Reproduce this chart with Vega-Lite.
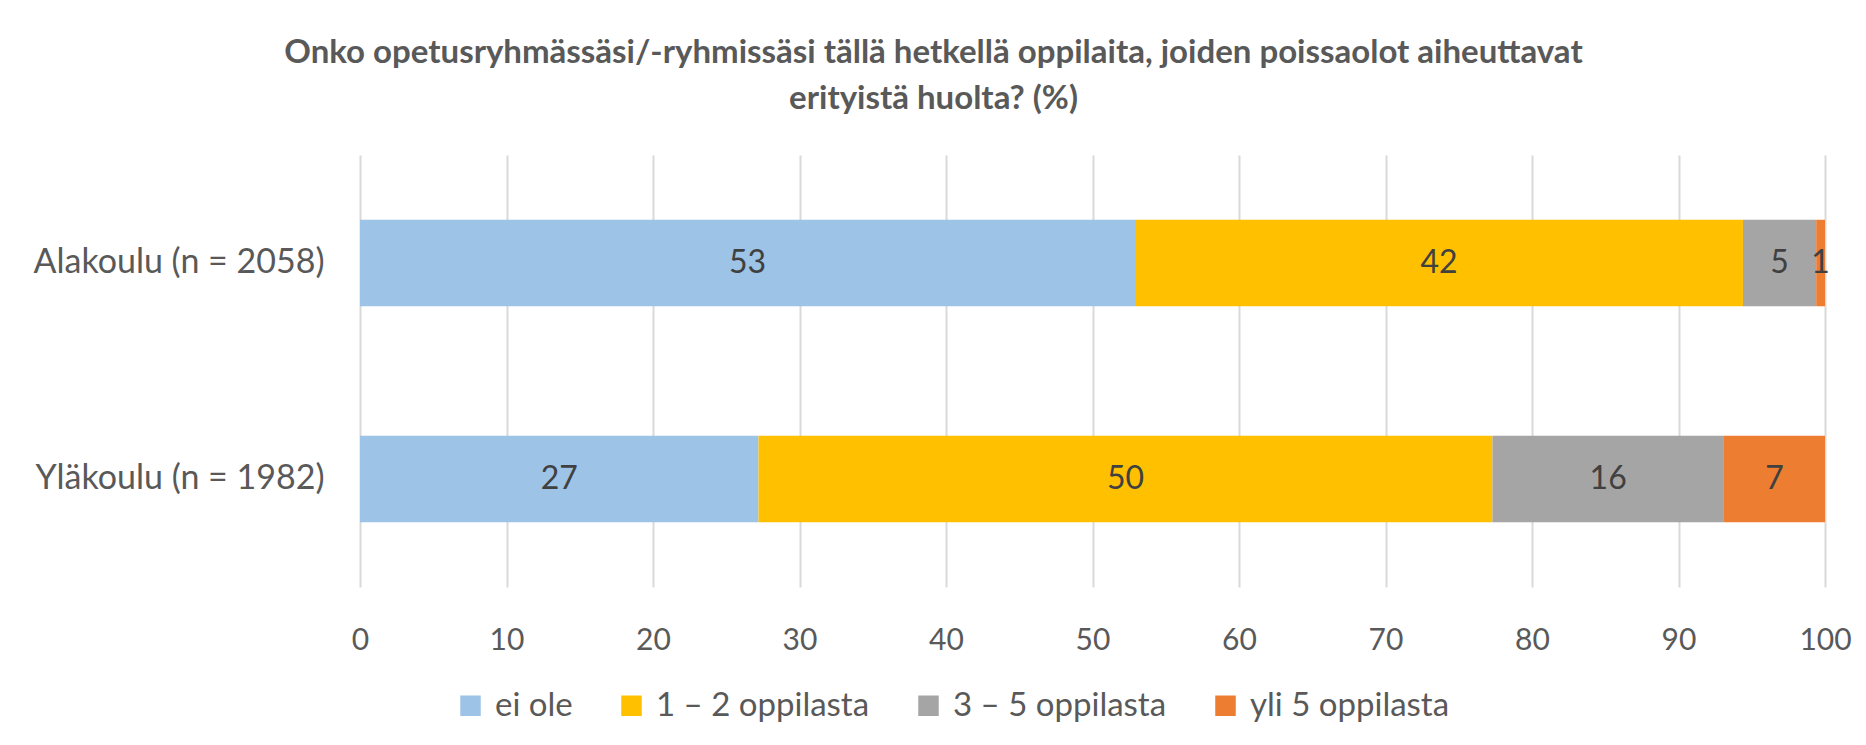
{
  "$schema": "https://vega.github.io/schema/vega-lite/v6.json",
  "autosize": {"type": "none"},
  "width": 1465,
  "height": 432,
  "padding": {"left": 360, "top": 155, "right": 41, "bottom": 158},
  "background": "white",
  "config": {
    "font": "Lato",
    "view": {"stroke": null}
  },
  "title": {
    "text": ["Onko opetusryhmässäsi/-ryhmissäsi tällä hetkellä oppilaita, joiden poissaolot aiheuttavat", "erityistä huolta? (%)"],
    "font": "Lato",
    "fontSize": 33,
    "fontWeight": "bold",
    "color": "#595959",
    "anchor": "middle",
    "frame": "group",
    "dx": -159,
    "offset": 13,
    "baseline": "alphabetic",
    "lineHeight": 46
  },
  "data": {
    "values": [
      {"group": "Alakoulu (n = 2058)", "cat": "ei ole", "value": 52.9},
      {"group": "Alakoulu (n = 2058)", "cat": "1 – 2 oppilasta", "value": 41.5},
      {"group": "Alakoulu (n = 2058)", "cat": "3 – 5 oppilasta", "value": 5.0},
      {"group": "Alakoulu (n = 2058)", "cat": "yli 5 oppilasta", "value": 0.6},
      {"group": "Yläkoulu (n = 1982)", "cat": "ei ole", "value": 27.2},
      {"group": "Yläkoulu (n = 1982)", "cat": "1 – 2 oppilasta", "value": 50.1},
      {"group": "Yläkoulu (n = 1982)", "cat": "3 – 5 oppilasta", "value": 15.8},
      {"group": "Yläkoulu (n = 1982)", "cat": "yli 5 oppilasta", "value": 6.9}
    ]
  },
  "transform": [
    {"calculate": "indexof(['ei ole','1 – 2 oppilasta','3 – 5 oppilasta','yli 5 oppilasta'], datum.cat)", "as": "k"},
    {"stack": "value", "groupby": ["group"], "sort": [{"field": "k", "order": "ascending"}], "as": ["v0", "v1"]},
    {"calculate": "(datum.v0 + datum.v1) / 2", "as": "mid"}
  ],
  "encoding": {
    "y": {
      "field": "group",
      "type": "nominal",
      "sort": ["Alakoulu (n = 2058)", "Yläkoulu (n = 1982)"],
      "title": null,
      "scale": {"paddingInner": 0.6, "paddingOuter": 0.3},
      "axis": {
        "domain": false,
        "ticks": false,
        "labelFont": "Lato",
        "labelFontSize": 34,
        "labelColor": "#595959",
        "labelPadding": 36,
        "labelLimit": 400,
        "grid": false
      }
    }
  },
  "layer": [
    {
      "mark": {"type": "bar"},
      "encoding": {
        "x": {
          "field": "v0",
          "type": "quantitative",
          "scale": {"domain": [0, 100], "nice": false},
          "title": null,
          "axis": {
            "values": [0, 10, 20, 30, 40, 50, 60, 70, 80, 90, 100],
            "domain": false,
            "ticks": false,
            "grid": true,
            "gridColor": "#D9D9D9",
            "gridWidth": 2,
            "labelFont": "Lato",
            "labelFontSize": 30,
            "labelColor": "#595959",
            "labelPadding": 38,
            "labelFlush": false
          }
        },
        "x2": {"field": "v1"},
        "color": {
          "field": "cat",
          "type": "nominal",
          "scale": {
            "domain": ["ei ole", "1 – 2 oppilasta", "3 – 5 oppilasta", "yli 5 oppilasta"],
            "range": ["#9DC3E6", "#FFC000", "#A5A5A5", "#ED7D31"]
          },
          "legend": {
            "title": null,
            "orient": "none",
            "direction": "horizontal",
            "legendX": 94,
            "legendY": 534,
            "symbolType": "square",
            "symbolSize": 420,
            "symbolStrokeWidth": 0,
            "labelFont": "Lato",
            "labelFontSize": 33,
            "labelColor": "#595959",
            "labelOffset": 8,
            "columnPadding": 42,
            "labelLimit": 400
          }
        }
      }
    },
    {
      "mark": {"type": "text", "font": "Lato", "fontSize": 32, "color": "#404040", "baseline": "middle"},
      "encoding": {
        "x": {"field": "mid", "type": "quantitative"},
        "text": {"field": "value", "type": "quantitative", "format": ".0f"}
      }
    }
  ]
}
